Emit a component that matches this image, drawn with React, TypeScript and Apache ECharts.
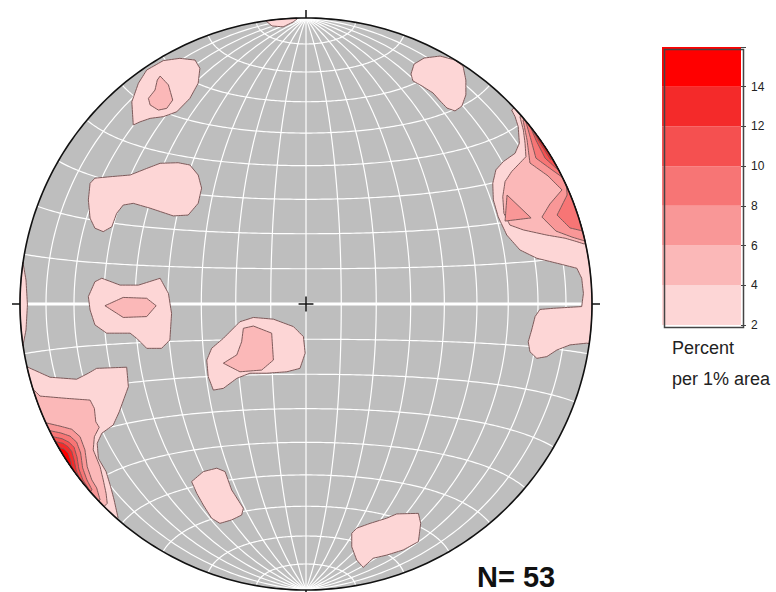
import React, { useEffect, useRef } from "react";
import * as echarts from "echarts";

// ---- data ----
const N_POINTS = 53;
const LEVELS = [2, 4, 6, 8, 10, 12, 14, 16];
const LEVEL_COLORS = ["#FDD6D6", "#FBB8B8", "#F99797", "#F77575", "#F55050", "#F42A2A", "#FF0000"];
const LEGEND_TITLE = ["Percent", "per 1% area"];

// contour outlines, net coordinates (radius = 100)
const blobA2 = [[-60.4,62.6],[-60.9,70.7],[-58.6,77.2],[-55.7,81.8],[-49.9,85.1],[-44.1,85.9],[-38.8,85.3],[-37.1,82.4],[-37.7,77.2],[-40.6,71.9],[-45.2,67.2],[-49.9,65.5],[-54.5,64.9],[-58.0,63.7]];
const blobA4 = [[-51.0,79.7],[-48.1,76.6],[-46.6,71.3],[-48.7,68.4],[-51.6,67.8],[-54.5,69.6],[-55.1,71.9],[-52.8,74.8],[-52.0,78.3]];
const blobB2 = [[-75.5,42.2],[-73.8,44.0],[-68.5,44.5],[-61.5,45.1],[-55.7,47.4],[-51.0,49.2],[-44.7,49.4],[-40.6,48.6],[-37.7,45.1],[-36.5,40.5],[-37.7,35.2],[-41.2,31.1],[-46.4,30.8],[-54.5,33.5],[-60.4,35.2],[-63.9,34.6],[-66.2,31.7],[-67.9,27.0],[-70.9,25.3],[-73.8,26.5],[-75.5,30.0],[-76.1,36.4]];
const blobC2 = [[-73.8,7.8],[-71.4,9.0],[-65.0,6.6],[-58.6,6.6],[-51.0,9.0],[-48.1,3.7],[-47.0,-3.3],[-47.6,-12.6],[-50.5,-15.5],[-55.7,-15.5],[-59.2,-12.0],[-61.5,-10.2],[-69.7,-10.2],[-73.8,-7.3],[-75.5,-2.1],[-76.1,2.6]];
const blobC4 = [[-70.3,-0.6],[-63.9,2.3],[-55.7,2.0],[-52.4,-0.6],[-55.7,-4.4],[-63.9,-4.7]];
const blobD2 = [[-34.7,-19.6],[-33.0,-15.5],[-28.9,-12.0],[-23.1,-6.2],[-18.4,-4.7],[-11.4,-5.3],[-4.4,-7.9],[-0.9,-11.4],[-0.3,-17.2],[-2.1,-22.5],[-6.7,-23.7],[-13.7,-24.2],[-19.6,-24.2],[-24.2,-26.0],[-28.9,-29.5],[-32.4,-30.1],[-34.2,-25.4]];
const blobD4 = [[-21.9,-8.5],[-18.4,-7.7],[-12.0,-10.2],[-11.4,-19.6],[-15.5,-23.1],[-23.1,-23.7],[-28.9,-20.7],[-24.2,-17.8],[-22.5,-13.2]];
const blobE2 = [[-40.0,-62.1],[-35.9,-58.6],[-31.2,-57.4],[-28.3,-58.6],[-26.0,-65.0],[-21.9,-71.4],[-22.5,-73.8],[-26.0,-75.5],[-30.1,-76.7],[-33.0,-74.9],[-35.9,-70.3],[-38.2,-66.2]];
const blobF2 = [[16.0,-80.2],[17.7,-78.4],[22.4,-76.7],[28.2,-74.9],[31.7,-73.4],[39.3,-73.2],[40.1,-76.7],[39.3,-83.1],[34.0,-86.0],[28.2,-87.8],[23.5,-88.9],[20.0,-92.1],[17.7,-89.5],[16.0,-84.9]];
const blobG2 = [[36.7,80.4],[37.8,83.9],[41.3,86.0],[46.9,86.7],[52.1,85.3],[54.9,83.2],[55.9,78.3],[55.9,73.1],[54.5,69.2],[52.1,67.5],[49.3,68.5],[46.9,71.0],[44.4,73.8],[40.6,76.2],[37.4,78.0]];
// open chains that close along the rim
const right2 = [[71.9,67.8],[73.1,65.5],[74.2,62.0],[74.6,56.2],[73.1,52.7],[69.0,49.8],[66.4,46.9],[65.3,42.2],[65.5,36.4],[67.2,30.5],[70.2,24.1],[74.8,18.9],[80.7,16.0],[88.8,14.0],[94.7,12.5],[96.4,9.0],[97.0,3.7],[96.4,-0.9],[86.5,-1.5],[81.8,-1.9],[80.1,-4.4],[78.9,-9.1],[77.7,-13.2],[78.3,-16.7],[80.7,-19.0],[84.2,-18.4],[87.7,-16.1],[92.3,-14.3],[98.1,-13.7]];
const right4 = [[74.8,65.5],[76.0,60.8],[76.6,56.2],[76.9,51.5],[71.9,46.3],[69.6,42.8],[68.8,37.5],[69.2,31.7],[71.3,27.6],[76.0,25.9],[84.2,24.1],[90.6,23.0],[94.7,21.8],[97.2,21.0]];
const rightTri6 = [[70.3,38.1],[69.6,29.0],[78.7,30.1]];
const right6 = [[75.9,64.3],[77.3,57.3],[78.3,49.3],[84.6,44.8],[89.5,39.9],[85.3,35.0],[82.5,30.4],[87.4,25.5],[93.0,23.4],[97.6,22.0]];
const right8 = [[76.6,64.7],[78.7,57.3],[80.4,51.0],[86.0,46.9],[90.9,43.4],[91.3,38.1],[87.8,31.1],[92.3,26.6],[96.9,25.5]];
const right10 = [[77.6,64.0],[80.4,57.3],[83.6,51.0],[88.1,46.9]];
const right12 = [[78.5,62.0],[82.0,56.0],[85.5,50.5]];
const left2 = [[-97.7,-21.9],[-89.5,-25.6],[-80.2,-26.3],[-76.1,-24.2],[-73.2,-22.5],[-62.7,-22.1],[-62.1,-28.9],[-63.6,-33.0],[-65.3,-37.7],[-67.4,-42.3],[-71.4,-45.2],[-73.0,-48.7],[-72.6,-54.0],[-69.9,-58.6],[-68.3,-63.9],[-67.1,-68.5],[-65.7,-74.8]];
const left4 = [[-96.3,-28.9],[-93.0,-32.2],[-83.7,-33.0],[-75.5,-33.6],[-74.0,-36.5],[-73.5,-41.2],[-72.3,-43.1],[-74.0,-46.4],[-74.4,-51.0],[-72.0,-56.9],[-70.9,-61.5],[-69.9,-66.2],[-69.5,-69.7]];
const left6 = [[-90.7,-41.6],[-86.0,-42.7],[-81.9,-43.8],[-79.0,-46.4],[-77.3,-51.0],[-76.5,-56.9],[-74.9,-61.5],[-73.2,-64.3],[-72.0,-68.5]];
const left8 = [[-89.5,-44.3],[-85.7,-45.1],[-82.5,-46.2],[-80.2,-48.3],[-78.8,-52.1],[-78.1,-57.3],[-76.6,-61.5],[-74.8,-65.0]];
const left10 = [[-88.5,-46.4],[-85.3,-47.1],[-82.9,-48.3],[-81.1,-50.1],[-80.1,-53.4],[-79.4,-57.7],[-78.0,-61.5],[-76.2,-64.3]];
const left12 = [[-87.6,-48.1],[-85.0,-48.7],[-83.2,-49.9],[-81.9,-51.6],[-81.1,-54.5],[-80.4,-58.0],[-79.0,-61.5],[-77.6,-63.3]];
const left14 = [[-86.7,-50.0],[-84.6,-50.7],[-83.1,-52.2],[-82.2,-54.9],[-81.6,-58.0],[-80.8,-60.8]];
const topSliver2 = [[-14.0,99.0],[-11.9,97.2],[-8.0,96.9],[-4.5,98.6],[-3.1,99.7]];
const leftSliver2 = [[-99.0,14.7],[-97.9,8.4],[-97.4,-0.3],[-97.9,-9.1],[-99.0,-14.7]];

const CONTOURS: { level: number; rim: boolean; pts: number[][] }[] = [
  { level: 2, rim: false, pts: blobA2 },
  { level: 2, rim: false, pts: blobB2 },
  { level: 2, rim: false, pts: blobC2 },
  { level: 2, rim: false, pts: blobD2 },
  { level: 2, rim: false, pts: blobE2 },
  { level: 2, rim: false, pts: blobF2 },
  { level: 2, rim: false, pts: blobG2 },
  { level: 2, rim: true, pts: right2 },
  { level: 2, rim: true, pts: left2 },
  { level: 2, rim: true, pts: topSliver2 },
  { level: 2, rim: true, pts: leftSliver2 },
  { level: 4, rim: false, pts: blobA4 },
  { level: 4, rim: false, pts: blobC4 },
  { level: 4, rim: false, pts: blobD4 },
  { level: 4, rim: true, pts: right4 },
  { level: 4, rim: true, pts: left4 },
  { level: 6, rim: false, pts: rightTri6 },
  { level: 6, rim: true, pts: right6 },
  { level: 6, rim: true, pts: left6 },
  { level: 8, rim: true, pts: right8 },
  { level: 8, rim: true, pts: left8 },
  { level: 10, rim: true, pts: right10 },
  { level: 10, rim: true, pts: left10 },
  { level: 12, rim: true, pts: right12 },
  { level: 12, rim: true, pts: left12 },
  { level: 14, rim: true, pts: left14 },
];

// ---- geometry helpers ----
const R = 100;
function proj(lam: number, phi: number): number[] {
  const l = (lam * Math.PI) / 180, p = (phi * Math.PI) / 180;
  const k = Math.sqrt(2 / (1 + Math.cos(p) * Math.cos(l)));
  return [(R * k * Math.cos(p) * Math.sin(l)) / Math.SQRT2, (R * k * Math.sin(p)) / Math.SQRT2];
}
function clampPt(p: number[]): number[] {
  const r = Math.hypot(p[0], p[1]);
  return r > R ? [(p[0] * R) / r, (p[1] * R) / r] : p;
}
function ring(pts: number[][], rim: boolean): number[][] {
  const out: number[][] = [];
  const n = pts.length;
  const segs = rim ? n - 1 : n;
  for (let i = 0; i < segs; i++) {
    const a = pts[i], b = pts[(i + 1) % n];
    const k = Math.max(1, Math.ceil(Math.hypot(b[0] - a[0], b[1] - a[1])));
    for (let j = 0; j < k; j++) {
      const t = j / k;
      out.push(clampPt([a[0] + (b[0] - a[0]) * t, a[1] + (b[1] - a[1]) * t]));
    }
  }
  if (rim) {
    const last = pts[n - 1];
    out.push(clampPt(last));
    const a1 = Math.atan2(last[1], last[0]);
    const a0 = Math.atan2(pts[0][1], pts[0][0]);
    let d = a0 - a1;
    while (d > Math.PI) d -= 2 * Math.PI;
    while (d < -Math.PI) d += 2 * Math.PI;
    const steps = Math.max(2, Math.ceil((Math.abs(d) * 180) / Math.PI));
    for (let j = 0; j <= steps; j++) {
      const a = a1 + (d * j) / steps;
      out.push([R * Math.cos(a), R * Math.sin(a)]);
    }
  }
  return out;
}

function buildNet() {
  const lines: { pts: number[][]; main: boolean }[] = [];
  for (let lam = -80; lam <= 80; lam += 10) {
    const pts: number[][] = [];
    for (let phi = -90; phi <= 90; phi += 1) pts.push(proj(lam, phi));
    lines.push({ pts, main: false });
  }
  for (let phi = -80; phi <= 80; phi += 10) {
    const pts: number[][] = [];
    for (let lam = -90; lam <= 90; lam += 1) pts.push(proj(lam, phi));
    lines.push({ pts, main: phi === 0 });
  }
  return lines;
}

export default function App() {
  const ref = useRef<HTMLDivElement>(null);
  useEffect(() => {
    document.body.style.margin = "0";
    if (!ref.current) return;
    const chart = echarts.init(ref.current, null, { renderer: "svg" });
    const net = buildNet();
    const rimPts: number[][] = [];
    for (let a = 0; a <= 360; a += 1) rimPts.push([R * Math.cos((a * Math.PI) / 180), R * Math.sin((a * Math.PI) / 180)]);
    const contours = CONTOURS.slice().sort((a, b) => a.level - b.level).map((c) => ({ level: c.level, ring: ring(c.pts, c.rim) }));
    const marks = [
      [[0, R], [0, R + 2.8]],
      [[0, -R], [0, -R - 2.8]],
      [[-R, 0], [-R - 2.8, 0]],
      [[R, 0], [R + 2.8, 0]],
      [[-2.6, 0], [2.6, 0]],
      [[0, -2.6], [0, 2.6]],
    ];
    const font = "'Liberation Sans', Arial, Helvetica, sans-serif";
    chart.setOption({
      animation: false,
      backgroundColor: "#ffffff",
      grid: [
        { left: 20, top: 18, width: 572, height: 572 },
        { left: 662, top: 47, width: 79, height: 278 },
      ],
      xAxis: [
        { gridIndex: 0, type: "value", min: -R, max: R, show: false },
        { gridIndex: 1, type: "category", data: ["scale"], show: false },
      ],
      yAxis: [
        { gridIndex: 0, type: "value", min: -R, max: R, show: false },
        {
          gridIndex: 1, type: "value", min: LEVELS[0], max: LEVELS[LEVELS.length - 1], interval: 2, position: "right",
          axisLine: { show: false },
          axisTick: { show: true, length: 5, lineStyle: { color: "#444", width: 1 } },
          splitLine: { show: false },
          axisLabel: { color: "#222", fontSize: 12, fontFamily: font, margin: 10,
            formatter: (v: number) => (v === LEVELS[LEVELS.length - 1] ? "" : String(v)) },
        },
      ],
      series: [
        {
          type: "custom", xAxisIndex: 0, yAxisIndex: 0, silent: true, z: 1, clip: false,
          data: [[0, 0]],
          renderItem: (_p: any, api: any) => ({
            type: "polygon", shape: { points: rimPts.map((p) => api.coord(p)) },
            style: { fill: "#BEBEBE", stroke: "none" },
          }),
        },
        {
          type: "custom", xAxisIndex: 0, yAxisIndex: 0, silent: true, z: 2, clip: false,
          data: net.map(() => [0, 0]),
          renderItem: (p: any, api: any) => {
            const l = net[p.dataIndex];
            return {
              type: "polyline", shape: { points: l.pts.map((q) => api.coord(q)) },
              style: { fill: "none", stroke: "#FFFFFF", lineWidth: l.main ? 3 : 1.2 },
            };
          },
        },
        {
          type: "custom", xAxisIndex: 0, yAxisIndex: 0, silent: true, z: 3, clip: false,
          data: contours.map(() => [0, 0]),
          renderItem: (p: any, api: any) => {
            const c = contours[p.dataIndex];
            const idx = LEVELS.indexOf(c.level);
            return {
              type: "polygon", shape: { points: c.ring.map((q) => api.coord(q)) },
              style: { fill: LEVEL_COLORS[idx], stroke: "#7E5A5A", lineWidth: 1 },
            };
          },
        },
        {
          type: "custom", xAxisIndex: 0, yAxisIndex: 0, silent: true, z: 4, clip: false,
          data: [[0, 0]],
          renderItem: (_p: any, api: any) => ({
            type: "polygon", shape: { points: rimPts.map((p) => api.coord(p)) },
            style: { fill: "none", stroke: "#111111", lineWidth: 1.6 },
          }),
        },
        {
          type: "custom", xAxisIndex: 0, yAxisIndex: 0, silent: true, z: 5, clip: false,
          data: marks.map(() => [0, 0]),
          renderItem: (p: any, api: any) => ({
            type: "polyline", shape: { points: marks[p.dataIndex].map((q) => api.coord(q)) },
            style: { fill: "none", stroke: "#111111", lineWidth: 1.5 },
          }),
        },
        {
          type: "custom", xAxisIndex: 1, yAxisIndex: 1, silent: true, z: 3,
          encode: { x: 0, y: [1, 2] },
          data: LEVEL_COLORS.map((_c, i) => [0, LEVELS[i], LEVELS[i + 1]]),
          renderItem: (p: any, api: any) => {
            const lo = api.coord([api.value(0), api.value(1)]);
            const hi = api.coord([api.value(0), api.value(2)]);
            const w = api.size([1, 0])[0];
            return {
              type: "rect", shape: { x: lo[0] - w / 2, y: hi[1], width: w, height: lo[1] - hi[1] },
              style: { fill: LEVEL_COLORS[p.dataIndex] },
            };
          },
        },
      ],
      graphic: [
        { type: "rect", left: 662, top: 47, z: 100, shape: { width: 79, height: 278 }, style: { fill: "none", stroke: "#444", lineWidth: 1.5 } },
        { type: "text", left: 672, top: 339, z: 100, style: { text: LEGEND_TITLE[0], fill: "#222", font: `18px ${font}` } },
        { type: "text", left: 672, top: 370, z: 100, style: { text: LEGEND_TITLE[1], fill: "#222", font: `18px ${font}` } },
        { type: "text", left: 477, top: 562, z: 100, style: { text: `N= ${N_POINTS}`, fill: "#111", font: `bold 29px ${font}` } },
      ],
    });
    return () => chart.dispose();
  }, []);
  return <div ref={ref} style={{ width: 776, height: 592 }} />;
}
